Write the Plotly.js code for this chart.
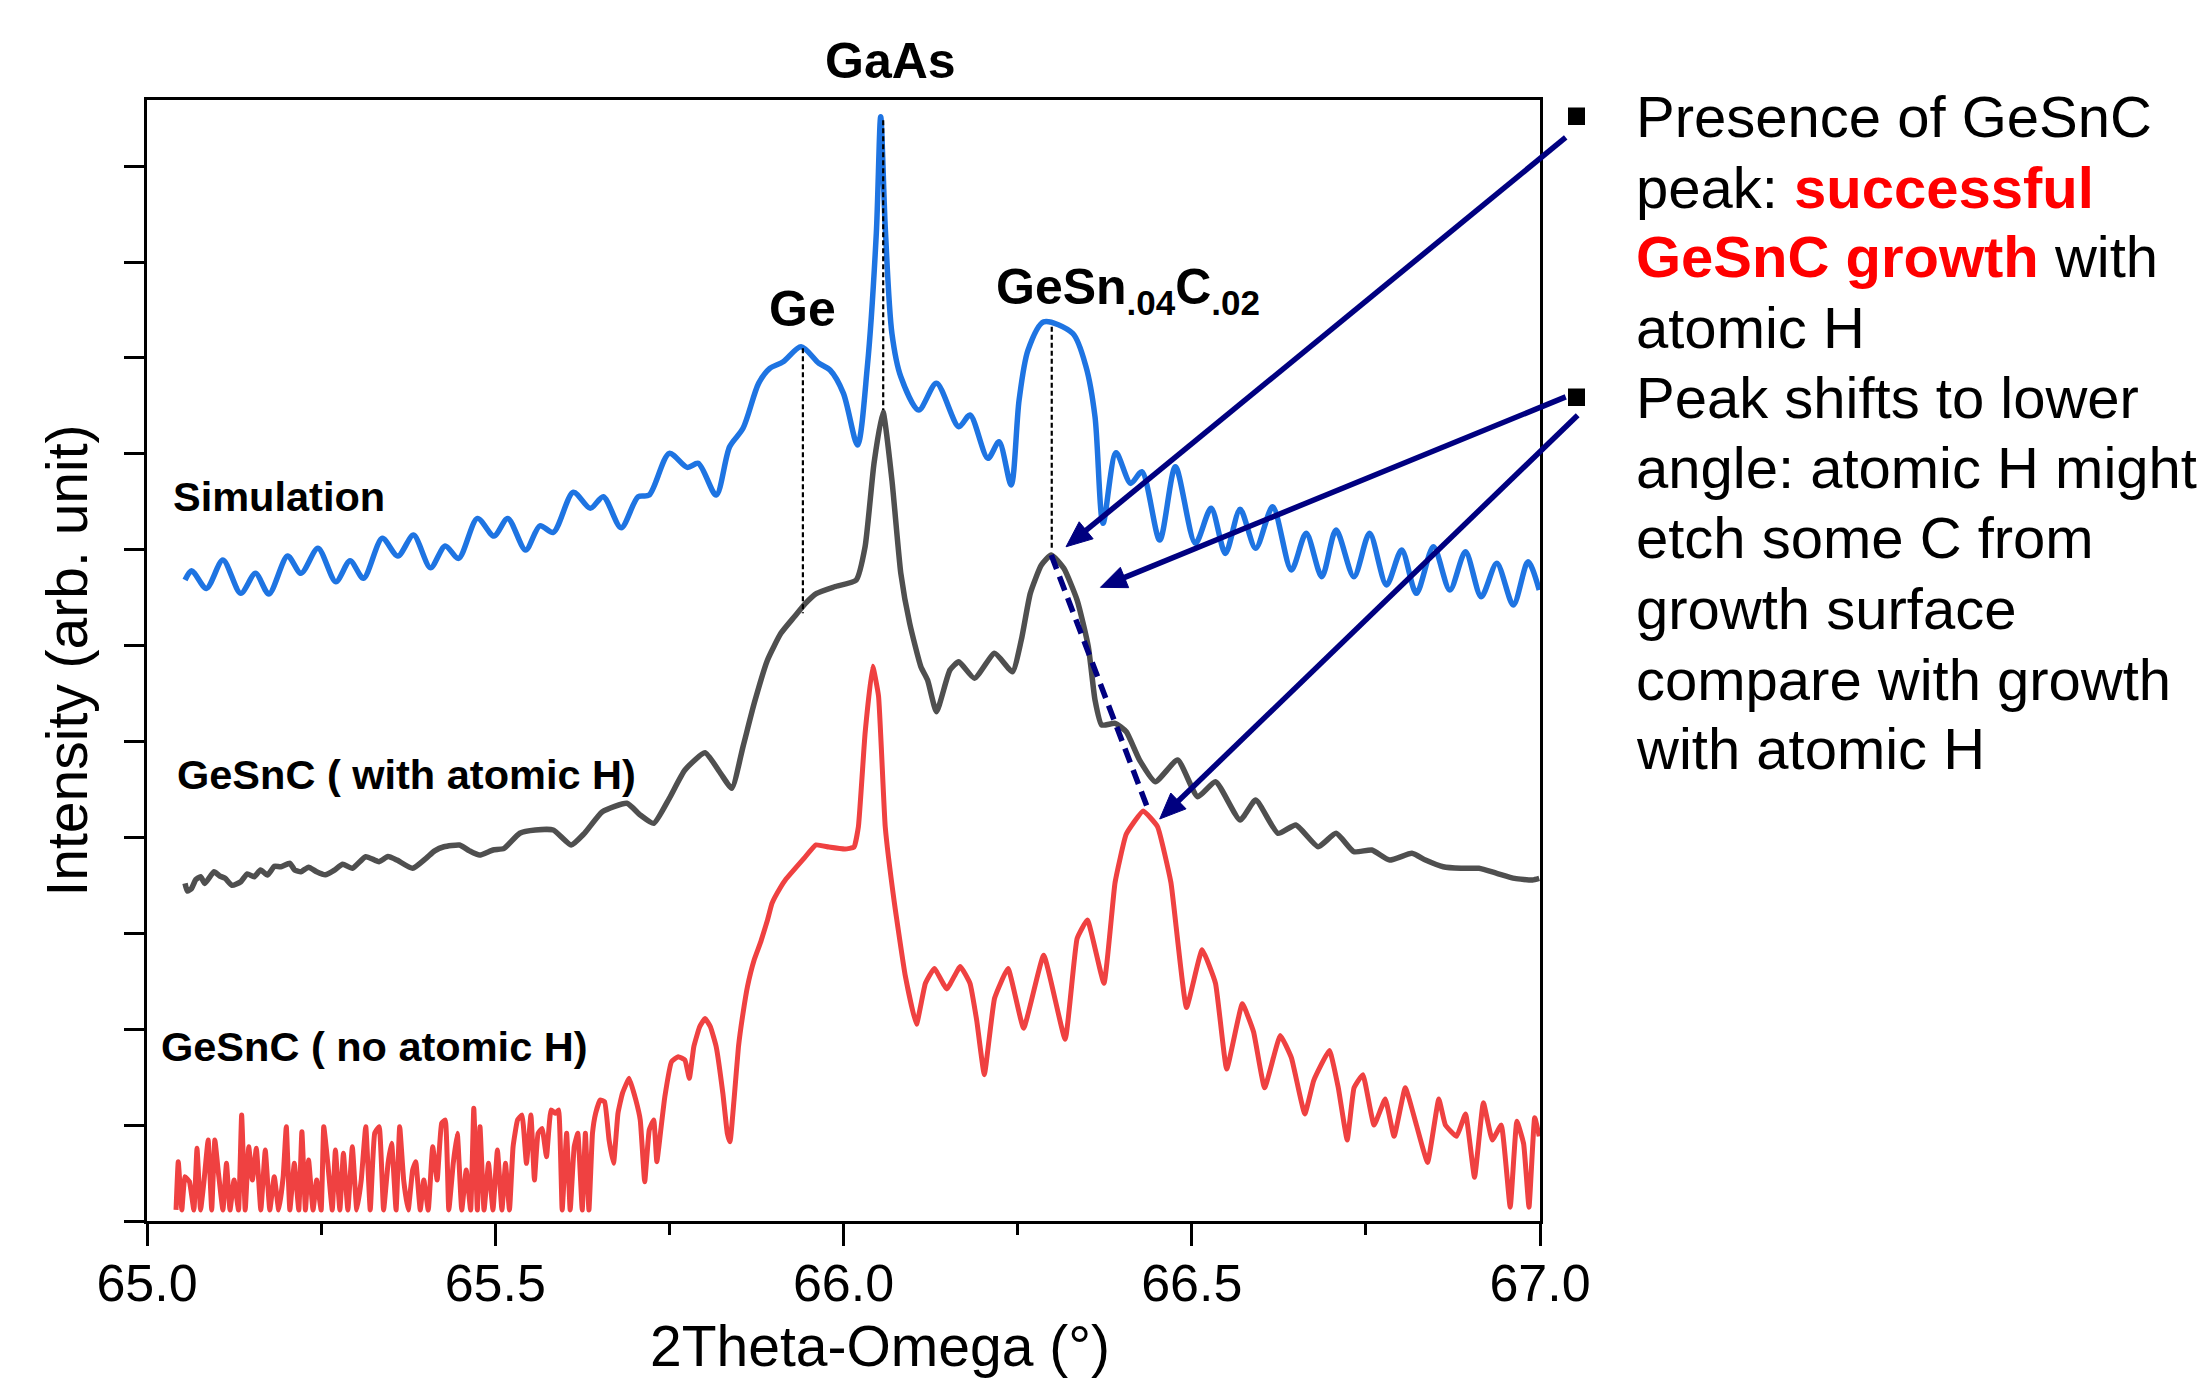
<!DOCTYPE html>
<html>
<head>
<meta charset="utf-8">
<script src="https://cdn.plot.ly/plotly-3.0.1.min.js"></script>
<style>html,body{margin:0;padding:0;background:#fff;}#chart{width:2211px;height:1380px;}</style>
</head>
<body>
<div id="chart"></div>
<script>
// ---------- DATA ----------
const simX = [65.0546,65.064,65.0853,65.109,65.1345,65.1558,65.175,65.2019,65.2211,65.2455,65.2711,65.2916,65.3108,65.3378,65.3602,65.3826,65.407,65.4281,65.4474,65.4744,65.4981,65.5179,65.5436,65.5641,65.5833,65.6121,65.6365,65.6551,65.6807,65.7051,65.721,65.7499,65.7756,65.7915,65.8172,65.8365,65.8557,65.8781,65.8942,65.9134,65.939,65.9647,65.9806,65.9999,66.0201,66.0342,66.0471,66.0534,66.0599,66.0695,66.0823,66.108,66.1335,66.1655,66.1816,66.2073,66.2233,66.2406,66.2521,66.2649,66.2874,66.3291,66.3482,66.3611,66.3726,66.3913,66.4123,66.4284,66.454,66.4765,66.5052,66.5278,66.5483,66.5694,66.5918,66.6162,66.643,66.6643,66.6867,66.7072,66.7328,66.7553,66.7796,66.8014,66.8225,66.847,66.8706,66.893,66.9156,66.938,66.9617,66.9828,66.9989];
const simY = [6.684,6.781,6.597,6.893,6.545,6.754,6.538,6.934,6.754,7.015,6.666,6.885,6.702,7.119,6.934,7.153,6.812,7.039,6.910,7.327,7.143,7.327,6.997,7.250,7.181,7.599,7.432,7.553,7.229,7.553,7.570,8.005,7.859,7.901,7.570,8.074,8.266,8.735,8.892,8.960,9.117,8.944,8.874,8.631,8.092,8.908,10.299,11.515,10.368,9.257,8.804,8.457,8.735,8.283,8.405,7.953,8.126,7.675,8.561,9.082,9.377,9.256,8.908,8.387,7.275,8.011,7.692,7.813,7.101,7.865,7.067,7.432,6.962,7.421,7.015,7.448,6.788,7.171,6.718,7.205,6.718,7.171,6.632,6.997,6.545,7.031,6.580,6.979,6.510,6.858,6.423,6.875,6.580];

const withHX = [65.0546,65.058,65.064,65.070,65.077,65.083,65.0962,65.104,65.1121,65.122,65.1347,65.144,65.1538,65.163,65.173,65.183,65.1922,65.2052,65.212,65.2211,65.232,65.2435,65.256,65.2692,65.281,65.2949,65.3141,65.3332,65.346,65.3589,65.3813,65.4006,65.413,65.4263,65.4487,65.463,65.4775,65.4968,65.5127,65.5352,65.5576,65.5833,65.6089,65.6281,65.6538,65.689,65.7082,65.7275,65.7499,65.7723,65.8011,65.8235,65.8396,65.8557,65.8718,65.8909,65.9101,65.9294,65.9454,65.9614,65.9871,66.0182,66.031,66.0438,66.0566,66.0695,66.0823,66.095,66.1111,66.1207,66.1335,66.1528,66.1655,66.188,66.2169,66.2425,66.2553,66.2682,66.2841,66.2983,66.3163,66.3354,66.3515,66.3611,66.3707,66.39,66.406,66.4251,66.4477,66.4797,66.5085,66.5341,66.5694,66.5918,66.6238,66.6495,66.6815,66.7072,66.7328,66.7585,66.7841,66.8161,66.8355,66.861,66.8867,66.9123,66.938,66.9636,66.9892,66.9989];
const withHY = [3.521,3.44,3.469,3.56,3.590,3.52,3.642,3.60,3.573,3.50,3.538,3.62,3.590,3.66,3.608,3.70,3.694,3.730,3.66,3.642,3.69,3.642,3.61,3.660,3.72,3.678,3.799,3.747,3.80,3.764,3.678,3.782,3.86,3.903,3.921,3.86,3.816,3.869,3.886,4.043,4.077,4.077,3.921,4.043,4.268,4.356,4.234,4.147,4.408,4.703,4.883,4.668,4.512,4.946,5.398,5.850,6.128,6.301,6.441,6.545,6.614,6.684,7.031,7.901,8.439,7.727,6.754,6.233,5.780,5.641,5.311,5.745,5.832,5.659,5.920,5.728,6.059,6.545,6.840,6.945,6.806,6.475,5.989,5.433,5.172,5.190,5.102,4.807,4.581,4.807,4.424,4.581,4.181,4.390,4.043,4.130,3.903,4.043,3.851,3.869,3.764,3.834,3.764,3.694,3.678,3.678,3.626,3.573,3.556,3.573];

const noHX = [65.0417,65.0449,65.0500,65.0545,65.0609,65.0673,65.0718,65.0769,65.0820,65.0878,65.0929,65.0974,65.1026,65.1090,65.1141,65.1192,65.1250,65.1314,65.1359,65.1410,65.1461,65.1513,65.1570,65.1634,65.1698,65.1763,65.1827,65.1891,65.1955,65.2000,65.2051,65.2115,65.2179,65.2224,65.2275,65.2320,65.2384,65.2436,65.2500,65.2538,65.2596,65.2660,65.2705,65.2769,65.2820,65.2884,65.2948,65.3012,65.3076,65.3141,65.3205,65.3269,65.3333,65.3397,65.3461,65.3512,65.3576,65.3628,65.3685,65.3750,65.3814,65.3858,65.3923,65.3974,65.4038,65.4102,65.4166,65.4230,65.4282,65.4333,65.4397,65.4455,65.4519,65.4583,65.4647,65.4692,65.4743,65.4781,65.4839,65.4903,65.4967,65.5031,65.5096,65.5147,65.5204,65.5256,65.5320,65.5384,65.5448,65.5512,65.5563,65.5615,65.5672,65.5736,65.5801,65.5865,65.5909,65.5961,65.6025,65.6076,65.6134,65.6185,65.6249,65.6294,65.6345,65.6396,65.6441,65.6506,65.6570,65.6634,65.6698,65.6762,65.6826,65.6922,65.7018,65.7082,65.7146,65.7211,65.7275,65.7320,65.7371,65.7435,65.7531,65.7627,65.7723,65.7787,65.7851,65.7935,65.8012,65.8089,65.8172,65.8268,65.8332,65.8371,65.8428,65.8492,65.8557,65.8621,65.8717,65.8813,65.8909,65.8973,65.9101,65.9165,65.9423,65.9605,65.9789,66.0022,66.015,66.0214,66.031,66.0419,66.0503,66.0599,66.0727,66.0887,66.1047,66.1176,66.1304,66.1483,66.1676,66.1816,66.1913,66.2022,66.2169,66.2362,66.2586,66.2874,66.3182,66.3354,66.3502,66.3739,66.3899,66.406,66.4303,66.4508,66.4701,66.4925,66.5149,66.5341,66.5502,66.5726,66.5887,66.6046,66.6271,66.6431,66.6623,66.6752,66.6976,66.7104,66.7232,66.733,66.7457,66.7617,66.7778,66.7905,66.8066,66.8226,66.8386,66.8547,66.8642,66.8803,66.8931,66.9060,66.9187,66.9315,66.9444,66.9572,66.9668,66.9765,66.9842,66.9924,66.9989];
const noHY = [0.115,0.619,0.115,0.462,0.410,0.115,0.758,0.115,0.428,0.845,0.115,0.845,0.497,0.115,0.601,0.115,0.428,0.115,1.105,0.115,0.775,0.428,0.758,0.115,0.740,0.115,0.462,0.115,0.462,0.984,0.115,0.601,0.115,0.932,0.115,0.636,0.115,0.428,0.115,0.984,0.601,0.115,0.740,0.115,0.706,0.115,0.775,0.115,0.428,0.984,0.115,0.914,0.984,0.115,0.601,0.810,0.115,0.984,0.428,0.115,0.532,0.619,0.115,0.428,0.115,0.775,0.428,1.018,1.053,0.115,0.601,0.914,0.115,0.532,0.115,1.175,0.115,0.984,0.115,0.601,0.115,0.740,0.115,0.601,0.115,0.775,1.053,1.105,0.601,1.105,0.428,0.914,0.966,0.671,1.158,1.123,1.158,0.115,0.914,0.115,0.775,0.914,0.115,0.914,0.115,0.914,1.123,1.262,1.244,0.845,0.601,1.123,1.331,1.488,1.262,1.053,0.410,0.949,1.053,0.619,0.914,1.297,1.661,1.714,1.679,1.488,1.818,2.026,2.113,2.026,1.818,1.331,0.914,0.827,1.262,1.818,2.166,2.444,2.722,2.913,3.139,3.313,3.486,3.556,3.773,3.922,3.900,3.879,3.899,4.113,5.086,5.786,5.474,4.113,3.335,2.557,2.051,2.479,2.634,2.420,2.654,2.479,2.090,1.526,2.323,2.634,2.011,2.771,1.895,2.946,3.140,2.479,3.530,4.035,4.276,4.113,3.530,2.226,2.829,2.479,1.584,2.265,1.973,1.389,1.934,1.701,1.117,1.467,1.779,1.389,0.845,1.389,1.526,1.000,1.272,0.883,1.389,1.000,0.611,1.272,1.000,0.883,1.117,0.456,1.234,0.845,1.000,0.144,1.040,0.806,0.144,1.078,0.883];

const seriesNames = ['Simulation', 'GeSnC ( with atomic H)', 'GeSnC ( no atomic H)'];
const seriesColors = ['#1e74e2', '#4f4f4f', '#ef4141'];
const peakNames = ['GaAs', 'Ge', 'GeSn<sub>.04</sub>C<sub>.02</sub>'];
const peakX = [66.057, 65.9417, 66.2990];
const peakTopY = [11.48, 9.10, 9.325];
const peakBottomY = [8.457, 6.337, 6.997];
const shiftFrom = [66.2983, 6.945];
const shiftTo = [66.4368, 4.303];
// arrows: tips and tails in data units
const arrowTips = [[66.3195, 7.031], [66.3689, 6.608], [66.4540, 4.192]];
const arrowTails = [[67.0369, 11.299], [67.0369, 8.594], [67.0541, 8.403]];
const noteLines = [
  'Presence of GeSnC',
  'peak: <span style="color:#ff0000"><b>successful</b></span>',
  '<span style="color:#ff0000"><b>GeSnC growth</b></span> with',
  'atomic H',
  'Peak shifts to lower',
  'angle: atomic H might',
  'etch some C from',
  'growth surface',
  'compare with growth',
  'with atomic H'
];
const xTitle = '2Theta-Omega (°)';
const yTitle = 'Intensity (arb. unit)';

// ---------- FIGURE ----------
const FONT = 'Liberation Sans, Arial, Helvetica, sans-serif';
const W = 2211, H = 1380;
const L = 147, R = 1540, T = 100, B = 1221;
const XR = [65, 67], YR = [0, 11.69];
const px2paperX = p => (p - L) / (R - L);
const px2paperY = p => (B - p) / (B - T);
const d2pxX = x => L + (x - XR[0]) / (XR[1] - XR[0]) * (R - L);
const d2pxY = y => B - (y - YR[0]) / (YR[1] - YR[0]) * (B - T);

const traces = [
  {x: simX, y: simY, name: seriesNames[0], mode: 'lines', line: {color: seriesColors[0], width: 5.5, shape: 'spline', smoothing: 0.8}},
  {x: withHX, y: withHY, name: seriesNames[1], mode: 'lines', line: {color: seriesColors[1], width: 5.5, shape: 'spline', smoothing: 0.5}},
  {x: noHX, y: noHY, name: seriesNames[2], mode: 'lines', line: {color: seriesColors[2], width: 5, shape: 'spline', smoothing: 0.35}}
];

const NAVY = '#000080';
const shapes = [];
for (let i = 0; i < peakNames.length; i++) {
  shapes.push({type: 'line', xref: 'x', yref: 'y', x0: peakX[i], x1: peakX[i], y0: peakTopY[i], y1: peakBottomY[i],
    line: {color: '#000', width: 2.2, dash: '5px,3px'}});
}
shapes.push({type: 'line', xref: 'x', yref: 'y', x0: shiftFrom[0], y0: shiftFrom[1], x1: shiftTo[0], y1: shiftTo[1],
  line: {color: NAVY, width: 5.5, dash: '15px,8px'}});
// arrows: shaft + filled head, in paper units so they are not clipped at the plot frame
arrowTips.forEach((tip, i) => {
  const tail = arrowTails[i];
  const tx = d2pxX(tip[0]), ty = d2pxY(tip[1]);
  const sx = d2pxX(tail[0]), sy = d2pxY(tail[1]);
  const len = Math.hypot(sx - tx, sy - ty);
  const ux = (sx - tx) / len, uy = (sy - ty) / len;
  const hl = 26, hw = 11;
  const bx = tx + ux * hl, by = ty + uy * hl;
  const nx = -uy, ny = ux;
  shapes.push({type: 'line', xref: 'paper', yref: 'paper', x0: px2paperX(sx), y0: px2paperY(sy),
    x1: px2paperX(bx - ux * 3), y1: px2paperY(by - uy * 3), line: {color: NAVY, width: 5.5}});
  const p = [[tx, ty], [bx + nx * hw, by + ny * hw], [bx - nx * hw, by - ny * hw]]
    .map(q => px2paperX(q[0]).toFixed(6) + ',' + px2paperY(q[1]).toFixed(6));
  shapes.push({type: 'path', xref: 'paper', yref: 'paper', path: 'M' + p[0] + 'L' + p[1] + 'L' + p[2] + 'Z',
    fillcolor: NAVY, line: {color: NAVY, width: 1}});
});
// bullet squares
[[107.5, 125], [388.5, 406]].forEach(b => {
  shapes.push({type: 'rect', xref: 'paper', yref: 'paper', x0: px2paperX(1568), x1: px2paperX(1585), y0: px2paperY(b[1]), y1: px2paperY(b[0]),
    fillcolor: '#000', line: {width: 0}});
});

const annotations = [];
// x-axis title (placed as in the reference, slightly right of the plot centre)
annotations.push({xref: 'paper', yref: 'paper', x: px2paperX(880), y: px2paperY(1346), text: xTitle, showarrow: false,
  font: {family: FONT, size: 57, color: '#000'}, xanchor: 'center', yanchor: 'middle'});
// peak labels
annotations.push({xref: 'x', yref: 'paper', x: 66.068, y: px2paperY(61), text: '<b>' + peakNames[0] + '</b>', showarrow: false,
  font: {family: FONT, size: 50, color: '#000'}, xanchor: 'center', yanchor: 'middle'});
annotations.push({xref: 'x', yref: 'y', x: 65.9405, y: 9.514, text: '<b>' + peakNames[1] + '</b>', showarrow: false,
  font: {family: FONT, size: 50, color: '#000'}, xanchor: 'center', yanchor: 'middle'});
annotations.push({xref: 'x', yref: 'y', x: 66.409, y: 9.70, text: '<b>' + peakNames[2] + '</b>', showarrow: false,
  font: {family: FONT, size: 50, color: '#000'}, xanchor: 'center', yanchor: 'middle'});
// series labels
annotations.push({xref: 'x', yref: 'y', x: 65.1895, y: 7.56, text: '<b>' + seriesNames[0] + '</b>', showarrow: false,
  font: {family: FONT, size: 41.5, color: '#000'}, xanchor: 'center', yanchor: 'middle'});
annotations.push({xref: 'x', yref: 'y', x: 65.3719, y: 4.661, text: '<b>' + seriesNames[1] + '</b>', showarrow: false,
  font: {family: FONT, size: 41.5, color: '#000'}, xanchor: 'center', yanchor: 'middle'});
annotations.push({xref: 'x', yref: 'y', x: 65.3269, y: 1.8175, text: '<b>' + seriesNames[2] + '</b>', showarrow: false,
  font: {family: FONT, size: 41.5, color: '#000'}, xanchor: 'center', yanchor: 'middle'});
// side notes
const lineBaselines = [137.4, 207.6, 277.4, 347.7, 418.4, 488.6, 558.4, 628.7, 699.8, 768.7];
noteLines.forEach((t, i) => {
  annotations.push({xref: 'paper', yref: 'paper', x: px2paperX(1634), y: px2paperY(lineBaselines[i] - 20.6), text: t, showarrow: false,
    font: {family: FONT, size: 58, color: '#000'}, xanchor: 'left', yanchor: 'middle', align: 'left'});
});

const layout = {
  width: W, height: H,
  margin: {l: L, r: W - R, t: T, b: H - B, pad: 0},
  paper_bgcolor: '#fff', plot_bgcolor: '#fff',
  showlegend: false,
  font: {family: FONT, color: '#000'},
  xaxis: {
    range: XR, tick0: 65, dtick: 0.5, tickformat: '.1f',
    ticks: 'outside', ticklen: 22, tickwidth: 3, tickcolor: '#000',
    minor: {dtick: 0.25, tick0: 65, ticks: 'outside', ticklen: 11, tickwidth: 3, tickcolor: '#000', showgrid: false},
    showline: true, linecolor: '#000', linewidth: 3, mirror: true,
    showgrid: false, zeroline: false,
    ticklabelstandoff: -7,
    tickfont: {family: FONT, size: 52, color: '#000'}
  },
  yaxis: {
    range: YR, tick0: 0, dtick: 1,
    ticks: 'outside', ticklen: 20, tickwidth: 3, tickcolor: '#000',
    showticklabels: false,
    showline: true, linecolor: '#000', linewidth: 3, mirror: true,
    showgrid: false, zeroline: false,
    title: {text: yTitle, font: {family: FONT, size: 57, color: '#000'}, standoff: 19}
  },
  shapes: shapes,
  annotations: annotations
};

Plotly.newPlot('chart', traces, layout, {staticPlot: true, displayModeBar: false});
</script>
</body>
</html>
